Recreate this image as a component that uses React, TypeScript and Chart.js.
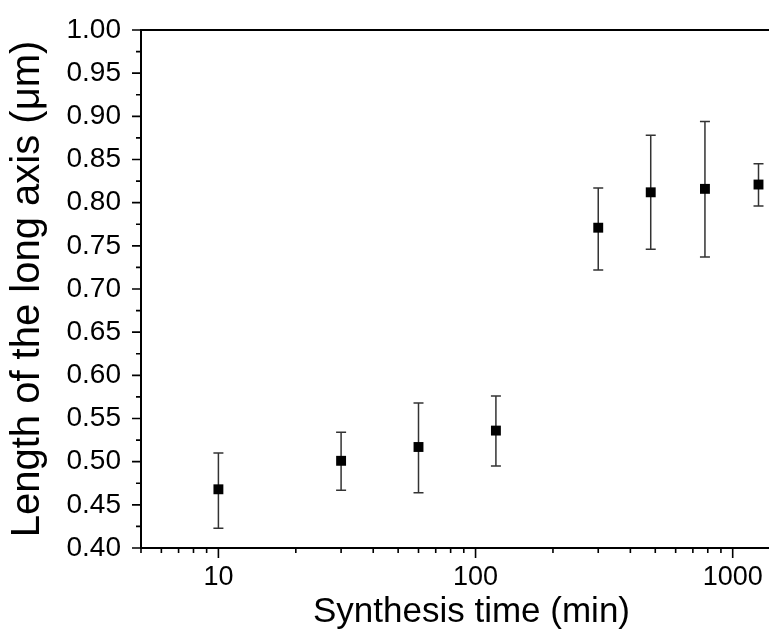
import React, { useEffect, useRef } from "react";
import { Chart, registerables } from "chart.js";

Chart.register(...registerables);

const times = [10, 30, 60, 120, 300, 480, 780, 1260];
const means = [0.468, 0.501, 0.517, 0.536, 0.771, 0.812, 0.816, 0.821];
const upper = [0.510, 0.534, 0.568, 0.576, 0.817, 0.878, 0.894, 0.845];
const lower = [0.423, 0.467, 0.464, 0.495, 0.722, 0.746, 0.737, 0.796];
const xLabels = [10, 100, 1000];
const xTitle = "Synthesis time (min)";
const yTitle = "Length of the long axis (μm)";

const FONT = "'Liberation Sans', Arial, Helvetica, sans-serif";

const decorPlugin = {
  id: "decor",
  beforeDatasetsDraw(chart: any) {
    const ctx = chart.ctx;
    const xs = chart.scales.x;
    const ys = chart.scales.y;
    ctx.save();
    ctx.strokeStyle = "#333";
    ctx.lineWidth = 1.5;
    const cap = 5;
    for (let i = 0; i < times.length; i++) {
      const px = xs.getPixelForValue(times[i]);
      const pt = ys.getPixelForValue(upper[i]);
      const pb = ys.getPixelForValue(lower[i]);
      ctx.beginPath();
      ctx.moveTo(px, pt);
      ctx.lineTo(px, pb);
      ctx.moveTo(px - cap, pt);
      ctx.lineTo(px + cap, pt);
      ctx.moveTo(px - cap, pb);
      ctx.lineTo(px + cap, pb);
      ctx.stroke();
    }
    ctx.restore();
  },
  afterDraw(chart: any) {
    const ctx = chart.ctx;
    const { left, right, top, bottom } = chart.chartArea;
    const xs = chart.scales.x;
    const ys = chart.scales.y;
    ctx.save();
    ctx.strokeStyle = "#000";
    ctx.lineWidth = 2;
    ctx.strokeRect(left, top, right - left, bottom - top);
    ctx.lineWidth = 1.6;
    const yMin = ys.min, yMax = ys.max;
    const n = Math.round((yMax - yMin) / 0.025);
    ctx.beginPath();
    for (let i = 0; i <= n; i++) {
      const v = yMin + i * 0.025;
      const py = ys.getPixelForValue(v);
      const len = i % 2 === 0 ? 9 : 5;
      ctx.moveTo(left, py);
      ctx.lineTo(left - len, py);
    }
    for (let k = 0; k <= 4; k++) {
      const d = Math.pow(10, k);
      for (let m = 1; m <= 9; m++) {
        const v = m * d;
        if (v < xs.min || v > xs.max) continue;
        const px = xs.getPixelForValue(v);
        const len = m === 1 ? 10 : 5;
        ctx.moveTo(px, bottom);
        ctx.lineTo(px, bottom + len);
      }
    }
    ctx.stroke();
    ctx.restore();
  },
};

export default function App() {
  const ref = useRef<HTMLCanvasElement>(null);
  useEffect(() => {
    if (!ref.current) return;
    const chart = new Chart(ref.current, {
      type: "scatter",
      data: {
        datasets: [
          {
            data: times.map((t, i) => ({ x: t, y: means[i] })),
            pointStyle: "rect",
            pointRadius: 7,
            backgroundColor: "#000",
            borderColor: "#000",
            borderWidth: 0,
            showLine: false,
          },
        ],
      },
      options: {
        animation: false,
        responsive: false,
        events: [],
        layout: { padding: { top: 30, right: 8, left: 0, bottom: 0 } },
        plugins: { legend: { display: false }, tooltip: { enabled: false } },
        scales: {
          x: {
            type: "logarithmic",
            min: 5,
            max: 1860,
            grid: { display: false, drawTicks: false },
            border: { display: false },
            afterFit: (s: any) => {
              s.height = 89;
              s.paddingLeft = 0;
              s.paddingRight = 0;
            },
            ticks: {
              autoSkip: false,
              maxRotation: 0,
              padding: 13,
              color: "#000",
              font: { family: FONT, size: 27 },
              callback: (v: any) => (xLabels.includes(Number(v)) ? String(v) : ""),
            },
            title: {
              display: true,
              text: xTitle,
              color: "#000",
              font: { family: FONT, size: 35 },
              padding: { top: 0, bottom: 4 },
            },
          },
          y: {
            type: "linear",
            min: 0.4,
            max: 1.0,
            grid: { display: false, drawTicks: false },
            border: { display: false },
            afterFit: (s: any) => {
              s.width = 141;
              s.paddingTop = 0;
              s.paddingBottom = 0;
            },
            ticks: {
              stepSize: 0.05,
              padding: 20,
              color: "#000",
              font: { family: FONT, size: 28 },
              callback: (v: any) => Number(v).toFixed(2),
            },
            title: {
              display: true,
              text: yTitle,
              color: "#000",
              font: { family: FONT, size: 40 },
              padding: { top: 4, bottom: 0 },
            },
          },
        },
      },
      plugins: [decorPlugin],
    });
    return () => chart.destroy();
  }, []);
  return (
    <div
      style={{
        position: "absolute",
        left: 0,
        top: 0,
        width: 769,
        height: 637,
        overflow: "hidden",
        background: "#fff",
      }}
    >
      <canvas ref={ref} width={810} height={637} style={{ display: "block" }} />
    </div>
  );
}
